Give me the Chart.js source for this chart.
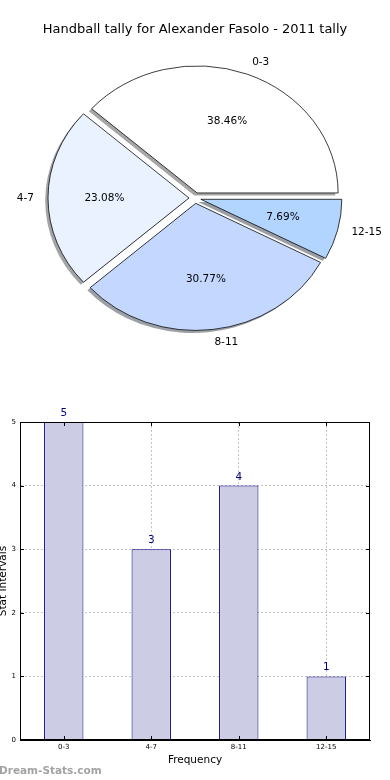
<!DOCTYPE html>
<html>
<head>
<meta charset="utf-8">
<script src="https://cdn.jsdelivr.net/npm/chart.js@4.4.1/dist/chart.umd.min.js"></script>
<style>
  html, body { margin: 0; padding: 0; background: #ffffff; overflow: hidden; }
  body { width: 390px; height: 780px; position: relative; }
  #pie { position: absolute; left: 0; top: 0; }
  #bar { position: absolute; left: 0; top: 390px; }
  #wm { position: absolute; left: -1px; top: 764px; font: bold 10.5px "DejaVu Sans", sans-serif; color: #a3a3a3; line-height: 13px; white-space: nowrap; }
</style>
</head>
<body>
<canvas id="pie" width="390" height="390"></canvas>
<canvas id="bar" width="390" height="390"></canvas>
<div id="wm">Dream-Stats.com</div>
<script>
// ---- data ----
const chartTitle = 'Handball tally for Alexander Fasolo - 2011 tally';
const categories = ['0-3', '4-7', '8-11', '12-15'];
const counts = [5, 3, 4, 1];
const pieColors = ['#ffffff', '#eaf2ff', '#c4d8ff', '#b2d5ff'];
const yTicks = [0, 1, 2, 3, 4, 5];
const xAxisTitle = 'Frequency';
const yAxisTitle = 'Stat Intervals';

const FONT = '"DejaVu Sans", sans-serif';
const ELL = 0.901;          // vertical squash of the pie (elliptical axes in original)
const EXPLODE = 6;          // px each wedge is pulled out
const SH_DX = -2.8, SH_DY = 2.6;

// explode every wedge along its mid angle (library draws the wedge itself)
const baseArcDraw = Chart.ArcElement.prototype.draw;
Chart.ArcElement.prototype.draw = function (ctx) {
  const mid = (this.startAngle + this.endAngle) / 2;
  ctx.save();
  ctx.translate(Math.cos(mid) * EXPLODE, Math.sin(mid) * EXPLODE);
  baseArcDraw.call(this, ctx);
  ctx.restore();
};

// pie drawn counter-clockwise from east in original -> reverse order, clockwise from east
const pieLabels = categories.slice().reverse();
const pieData = counts.slice().reverse();
const pieBg = pieColors.slice().reverse();
const total = counts.reduce((a, b) => a + b, 0);

function hexToRgb(h) {
  const n = parseInt(h.slice(1), 16);
  return [(n >> 16) & 255, (n >> 8) & 255, n & 255];
}

const piePlugin = {
  id: 'piePlugin',
  beforeDatasetsDraw(chart) {
    const ctx = chart.ctx;
    const meta = chart.getDatasetMeta(0);
    meta.data.forEach((arc, i) => {
      const p = arc.getProps(['x', 'y', 'startAngle', 'endAngle', 'outerRadius'], true);
      const mid = (p.startAngle + p.endAngle) / 2;
      const c = hexToRgb(pieBg[i]).map(v => Math.round(v * 0.3));
      ctx.save();
      ctx.translate(SH_DX, SH_DY);
      ctx.translate(p.x, p.y); ctx.scale(1, ELL); ctx.translate(-p.x, -p.y);
      ctx.translate(Math.cos(mid) * EXPLODE, Math.sin(mid) * EXPLODE);
      ctx.beginPath();
      ctx.moveTo(p.x, p.y);
      ctx.arc(p.x, p.y, p.outerRadius, p.startAngle, p.endAngle);
      ctx.closePath();
      ctx.fillStyle = `rgba(${c[0]},${c[1]},${c[2]},0.5)`;
      ctx.fill();
      ctx.restore();
    });
    const a = meta.data[0];
    ctx.save();
    ctx.translate(a.x, a.y); ctx.scale(1, ELL); ctx.translate(-a.x, -a.y);
  },
  afterDatasetsDraw(chart) {
    const ctx = chart.ctx;
    ctx.restore();
    const meta = chart.getDatasetMeta(0);
    ctx.save();
    ctx.fillStyle = '#000';
    ctx.font = '10.5px ' + FONT;
    ctx.textBaseline = 'middle';
    meta.data.forEach((arc, i) => {
      const p = arc.getProps(['x', 'y', 'startAngle', 'endAngle', 'outerRadius'], true);
      const R = p.outerRadius;
      const mid = (p.startAngle + p.endAngle) / 2;
      const cs = Math.cos(mid), sn = Math.sin(mid);
      const lx = p.x + cs * (EXPLODE + 1.1 * R);
      const ly = p.y + sn * (EXPLODE + 1.1 * R) * ELL;
      ctx.textAlign = cs > 0 ? 'left' : 'right';
      ctx.fillText(pieLabels[i], lx, ly);
      const px = p.x + cs * (EXPLODE + 0.6 * R);
      const py = p.y + sn * (EXPLODE + 0.6 * R) * ELL;
      ctx.textAlign = 'center';
      ctx.fillText((pieData[i] / total * 100).toFixed(2) + '%', px, py);
    });
    ctx.restore();
  }
};

new Chart(document.getElementById('pie'), {
  type: 'pie',
  data: {
    labels: pieLabels,
    datasets: [{
      data: pieData,
      backgroundColor: pieBg,
      borderColor: '#000000',
      borderWidth: 0.8
    }]
  },
  options: {
    responsive: false,
    animation: false,
    devicePixelRatio: 1,
    events: [],
    rotation: 90,
    radius: 141,
    layout: { padding: { top: 0, bottom: 31.6, left: 0, right: 0 } },
    plugins: {
      legend: { display: false },
      tooltip: { enabled: false },
      title: {
        display: true,
        text: chartTitle,
        color: '#000',
        font: { family: FONT, size: 13, weight: 'normal', lineHeight: 1.2 },
        padding: { top: 22, bottom: 0 }
      }
    }
  },
  plugins: [piePlugin]
});

// ---- bar chart ----
const barPlugin = {
  id: 'barPlugin',
  afterDatasetsDraw(chart) {
    const ctx = chart.ctx;
    const meta = chart.getDatasetMeta(0);
    ctx.save();
    ctx.fillStyle = '#000080';
    ctx.font = '10.5px ' + FONT;
    ctx.textAlign = 'center';
    ctx.textBaseline = 'alphabetic';
    meta.data.forEach((bar, i) => {
      ctx.fillText(String(counts[i]), bar.x, bar.y - 6);
    });
    ctx.restore();
  },
  afterDraw(chart) {
    const ctx = chart.ctx;
    const { left, right, top, bottom } = chart.chartArea;
    const xs = chart.scales.x, ys = chart.scales.y;
    ctx.save();
    ctx.strokeStyle = '#000';
    ctx.lineWidth = 1;
    ctx.strokeRect(Math.round(left) + 0.5, Math.round(top) + 0.5, Math.round(right - left) - 1, Math.round(bottom - top) - 1);
    ctx.beginPath();
    yTicks.forEach(v => {
      const py = Math.round(ys.getPixelForValue(v)) + 0.5;
      ctx.moveTo(left, py); ctx.lineTo(left + 4, py);
      ctx.moveTo(right - 4, py); ctx.lineTo(right, py);
    });
    categories.forEach((c, i) => {
      const px = Math.round(xs.getPixelForValue(i)) + 0.5;
      ctx.moveTo(px, bottom); ctx.lineTo(px, bottom - 4);
      ctx.moveTo(px, top); ctx.lineTo(px, top + 4);
    });
    ctx.stroke();
    ctx.restore();
  }
};

new Chart(document.getElementById('bar'), {
  type: 'bar',
  data: {
    labels: categories,
    datasets: [{
      data: counts,
      backgroundColor: '#ccccE5',
      borderColor: '#000080',
      borderWidth: 1,
      barPercentage: 0.45,
      categoryPercentage: 1
    }]
  },
  options: {
    responsive: false,
    animation: false,
    devicePixelRatio: 1,
    events: [],
    layout: { padding: { top: 32, right: 20, bottom: 10, left: 0 } },
    plugins: { legend: { display: false }, tooltip: { enabled: false } },
    scales: {
      x: {
        z: 1,
        grid: { offset: false, color: '#c4c4c4', drawTicks: false, lineWidth: 1 },
        border: { display: true, color: '#000', width: 1, dash: [2, 2] },
        ticks: { color: '#000', font: { family: FONT, size: 7 }, padding: 3, maxRotation: 0, autoSkip: false },
        title: { display: true, text: xAxisTitle, color: '#000', font: { family: FONT, size: 10.5 }, padding: { top: 0, bottom: 3 } },
        afterFit(s) { s.height = 30; }
      },
      y: {
        z: 1,
        min: 0,
        max: 5,
        grid: { color: '#c4c4c4', drawTicks: false, lineWidth: 1 },
        border: { display: true, color: '#000', width: 1, dash: [2, 2] },
        ticks: {
          stepSize: 1, color: '#000', font: { family: FONT, size: 7 }, padding: 4,
          callback: (v) => yTicks.includes(v) ? String(v) : ''
        },
        title: { display: true, text: yAxisTitle, color: '#000', font: { family: FONT, size: 10.5 }, padding: { top: -3, bottom: 0 } },
        afterFit(s) { s.width = 20; }
      }
    }
  },
  plugins: [barPlugin]
});
</script>
</body>
</html>
